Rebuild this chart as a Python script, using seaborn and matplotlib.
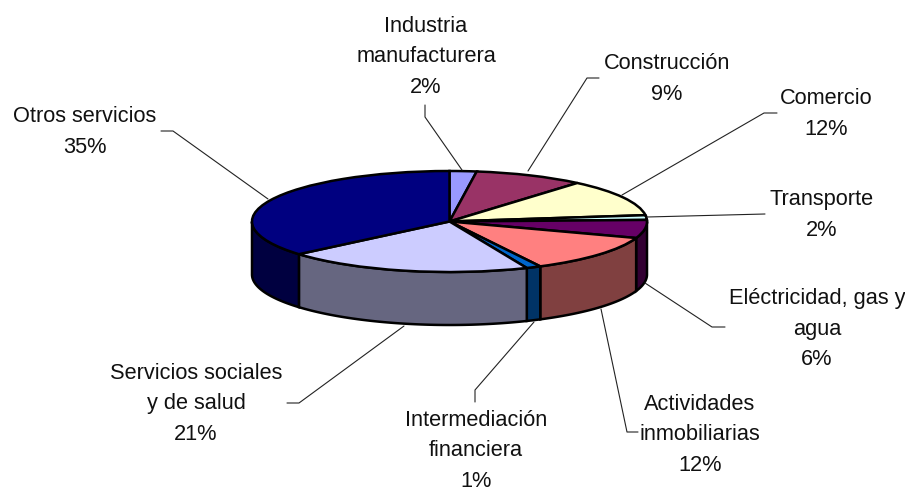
import numpy as np
import seaborn as sns
import matplotlib
matplotlib.use('Agg')
import matplotlib.pyplot as plt

# Sectors, clockwise from the top of the pie
sectores = ['Industria\nmanufacturera', 'Construcción', 'Comercio', 'Transporte',
            'Eléctricidad, gas y\nagua', 'Actividades\ninmobiliarias',
            'Intermediación\nfinanciera', 'Servicios sociales\ny de salud',
            'Otros servicios']
# Printed percentages
etiquetas = [2, 9, 12, 2, 6, 12, 1, 21, 35]
# Slice sizes as drawn (read from the slice edges, they differ a bit from the printed ones)
porciones = [2.2, 9.0, 11.8, 1.5, 5.8, 12.1, 1.2, 20.2, 36.2]
colores = ['#9999FF', '#993366', '#FFFFCC', '#CCFFFF', '#660066',
           '#FF8080', '#0066CC', '#CCCCFF', '#000080']

# Label centre (middle line) in pixels and leader line points in pixels
pos_texto = [(426, 57), (667, 79), (826, 114), (822, 215), (817, 329),
             (700, 435), (476, 451), (196, 404), (84.5, 132)]
guias = [[(425, 106), (425, 118), (462, 171)],
         [(599, 79), (587, 79), (528, 172)],
         [(777, 114), (764, 114), (622, 196)],
         [(765, 215), (647, 218)],
         [(725, 328), (712, 328), (645, 284)],
         [(638, 433), (627, 433), (601, 310)],
         [(475, 403), (475, 391), (534, 323)],
         [(287, 404), (299, 404), (404, 327)],
         [(161, 132), (173, 132), (268, 200)]]

ANCHO, ALTO = 905, 489
CX, CY, RX, RY = 449.5, 222.5, 197.5, 50.5
GROSOR = 53 / RY

sns.set_theme(style='white')
plt.rcParams['font.family'] = ['Liberation Sans', 'DejaVu Sans']
paleta = sns.color_palette(colores)

fig = plt.figure(figsize=(ANCHO / 100, ALTO / 100), dpi=100, facecolor='white')

# Pie axes: unit circle gets squashed into the ellipse by the axis limits
ax = fig.add_axes([0, 0, 1, 1])
fondo = np.cumsum([0] + porciones) / sum(porciones) * 360

# Rim, only the front half of the pie can be seen
for i, color in enumerate(paleta):
    t0, t1 = max(fondo[i], 90), min(fondo[i + 1], 270)
    if t1 <= t0:
        continue
    t = np.radians(np.linspace(t0, t1, 80))
    x = np.sin(t)
    y = np.cos(t)
    ax.fill(np.r_[x, x[::-1]], np.r_[y, y[::-1] - GROSOR],
            color=np.array(color) * 0.5, ec='black', lw=1.8, zorder=1)

wedges, _ = ax.pie(porciones, colors=paleta, startangle=90, counterclock=False,
                   wedgeprops={'edgecolor': 'black', 'linewidth': 1.8})
ax.set_aspect('auto')
ax.set_xlim(-CX / RX, (ANCHO - CX) / RX)
ax.set_ylim((CY - ALTO) / RY, CY / RY)
ax.axis('off')

# Overlay in pixels for labels and leader lines
capa = fig.add_axes([0, 0, 1, 1])
capa.set_xlim(0, ANCHO)
capa.set_ylim(ALTO, 0)
capa.axis('off')
capa.patch.set_alpha(0)

for nombre, pct, (tx, ty), guia in zip(sectores, etiquetas, pos_texto, guias):
    capa.text(tx, ty, f'{nombre}\n{pct}%', ha='center', va='center', fontsize=15.7,
              color='#111111', linespacing=1.6, clip_on=False)
    capa.plot(*zip(*guia), color='#222222', lw=0.8)

plt.savefig('out.png', dpi=100, facecolor='white')
